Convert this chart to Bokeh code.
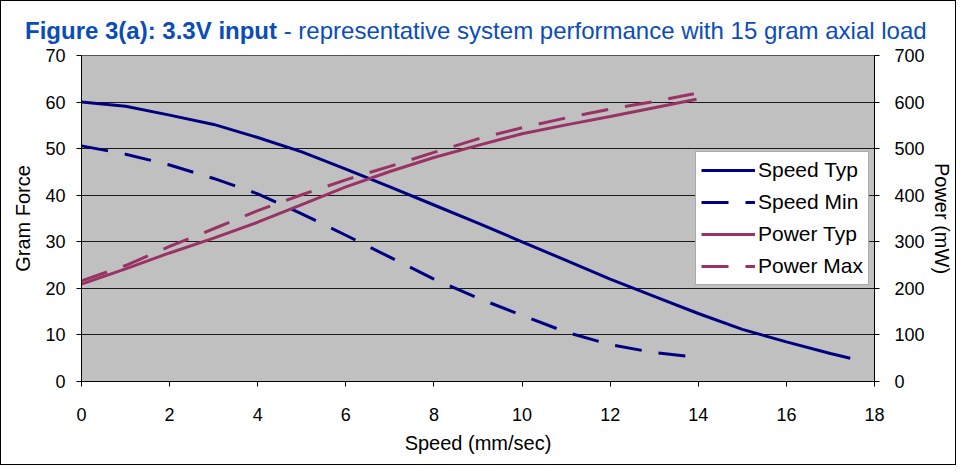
from bokeh.plotting import figure
from bokeh.models import Range1d, LinearAxis, Legend, LegendItem, FixedTicker, Div
from bokeh.layouts import column
from bokeh.embed import file_html
from bokeh.resources import INLINE

# ---- data ----
speed_typ_x = [0, 1, 2, 3, 4, 5, 6, 7, 8, 9, 10, 11, 12, 13, 14, 15, 16, 17, 17.45]
speed_typ_y = [60, 59.1, 57.2, 55.2, 52.4, 49.3, 45.6, 41.8, 37.9, 34.0, 30.0, 26.0, 22.0, 18.3, 14.6, 11.2, 8.5, 6.0, 5.0]

speed_min_x = [0, 1, 2, 3, 4, 5, 6, 7, 8, 9, 10, 11, 12, 13, 13.85]
speed_min_y = [50.6, 48.8, 46.5, 43.6, 40.3, 36.0, 31.4, 26.7, 22.0, 17.9, 14.2, 10.6, 7.9, 6.2, 5.3]

power_typ_x = [0, 1, 2, 3, 4, 5, 6, 7, 8, 9, 10, 11, 12, 13, 13.96]
power_typ_y = [209, 242, 276, 308, 342, 380, 418, 451, 481, 507, 532, 551, 569, 588, 606]

power_max_x = [0, 1, 2, 3, 4, 5, 6, 7, 8, 9, 10, 11, 12, 13, 13.9]
power_max_y = [216, 249, 290, 328, 367, 401, 433, 462, 492, 521, 545, 566, 585, 601, 618]

x_ticks = [0, 2, 4, 6, 8, 10, 12, 14, 16, 18]
left_ticks = [0, 10, 20, 30, 40, 50, 60, 70]
right_ticks = [0, 100, 200, 300, 400, 500, 600, 700]

title_bold = "Figure 3(a): 3.3V input"
title_rest = "- representative system performance with 15 gram axial load"

NAVY = "#000080"
PLUM = "#993366"
BLUE = "#0B4DB8"
FONT = "Liberation Sans"

title_div = Div(
    text=f"<span style='font-weight:bold'>{title_bold}</span> {title_rest}",
    width=954, height=46, margin=0,
    styles={"font-family": FONT, "font-size": "24px", "color": BLUE, "white-space": "nowrap",
            "padding-left": "24px", "padding-top": "16px", "line-height": "normal",
            "box-sizing": "border-box", "background": "white"},
)

p = figure(width=954, height=417, output_backend="svg", toolbar_location=None,
           x_range=Range1d(0, 18), y_range=Range1d(0, 70),
           min_border_left=80, min_border_right=76, min_border_top=8, min_border_bottom=83)
p.extra_y_ranges = {"power": Range1d(0, 700)}

p.background_fill_color = "#C0C0C0"
p.border_fill_color = "white"
p.outline_line_color = "#555555"

p.xgrid.visible = False
p.ygrid.ticker = FixedTicker(ticks=left_ticks)
p.ygrid.grid_line_color = "#1a1a1a"
p.ygrid.grid_line_width = 1

def style_axis(ax):
    ax.axis_line_color = "black"
    ax.major_tick_line_color = "black"
    ax.major_tick_in = 0
    ax.major_tick_out = 5
    ax.minor_tick_line_color = None
    ax.major_label_text_font = FONT
    ax.major_label_text_font_size = "18px"
    ax.major_label_text_color = "black"
    ax.axis_label_text_font = FONT
    ax.axis_label_text_font_size = "20px"
    ax.axis_label_text_font_style = "normal"
    ax.axis_label_text_color = "black"

p.xaxis.ticker = FixedTicker(ticks=x_ticks)
p.xaxis.axis_label = "Speed (mm/sec)"
style_axis(p.xaxis[0])
p.xaxis.major_label_standoff = 21
p.xaxis.axis_label_standoff = 8

p.yaxis.ticker = FixedTicker(ticks=left_ticks)
p.yaxis.axis_label = "Gram Force"
style_axis(p.yaxis[0])
p.yaxis.major_label_standoff = 11
p.yaxis.axis_label_standoff = 8

raxis = LinearAxis(y_range_name="power", ticker=FixedTicker(ticks=right_ticks), axis_label="Power (mW)")
style_axis(raxis)
raxis.major_label_standoff = 15
raxis.axis_label_standoff = 3
p.add_layout(raxis, "right")

r1 = p.line(speed_typ_x, speed_typ_y, line_color=NAVY, line_width=3)
r2 = p.line(speed_min_x, speed_min_y, line_color=NAVY, line_width=3, line_dash="27 17")
r3 = p.line(power_typ_x, power_typ_y, line_color=PLUM, line_width=3, y_range_name="power")
r4 = p.line(power_max_x, power_max_y, line_color=PLUM, line_width=3, line_dash="27 17", y_range_name="power")

legend = Legend(items=[
    LegendItem(label="Speed Typ", renderers=[r1]),
    LegendItem(label="Speed Min", renderers=[r2]),
    LegendItem(label="Power Typ", renderers=[r3]),
    LegendItem(label="Power Max", renderers=[r4]),
], location=(614, 96))
legend.background_fill_color = "white"
legend.background_fill_alpha = 1
legend.border_line_color = "#555555"
legend.label_text_font = FONT
legend.label_text_font_size = "21px"
legend.label_text_color = "black"
legend.glyph_width = 54
legend.glyph_height = 26
legend.label_height = 26
legend.spacing = 6
legend.padding = 5
legend.margin = 0
legend.label_standoff = 3
p.add_layout(legend, "center")

layout = column(title_div, p, spacing=0, styles={"border": "1px solid black", "background": "white"})

open("out.html", "w").write(file_html(layout, INLINE))
